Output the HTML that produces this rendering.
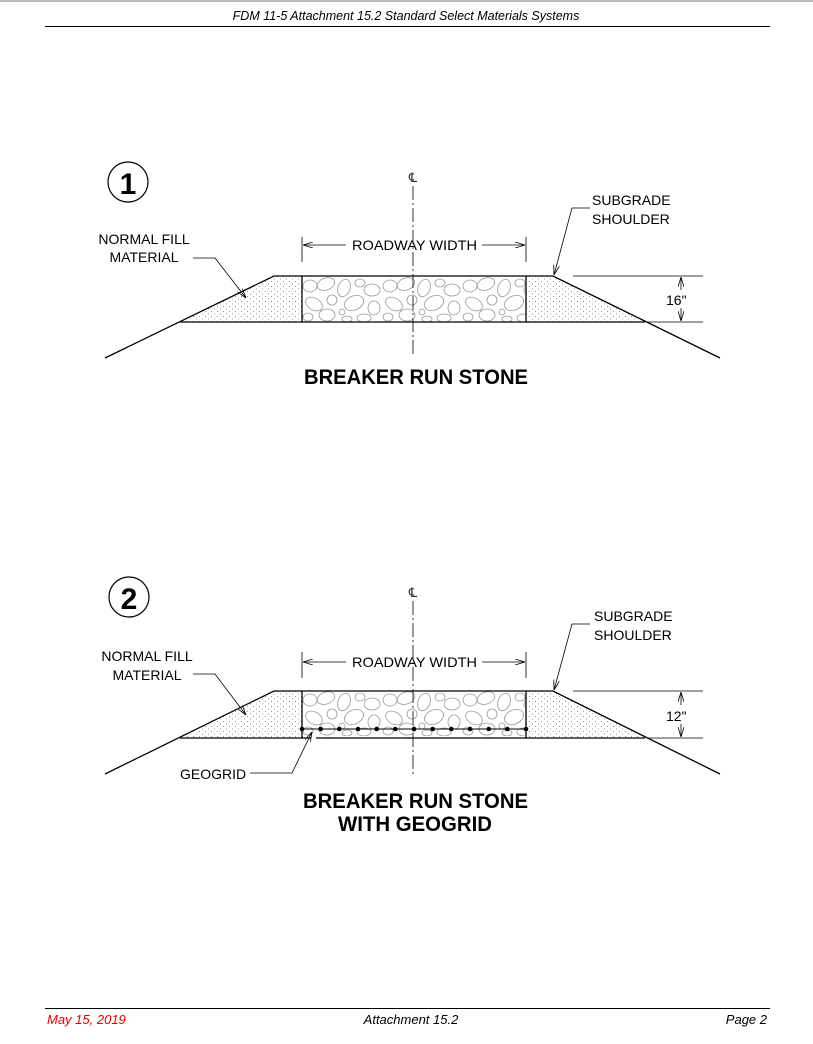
<!DOCTYPE html>
<html><head><meta charset="utf-8"><style>
html,body{margin:0;padding:0;background:#fff}
svg{display:block}
text{font-family:"Liberation Sans",Arial,sans-serif}
</style></head><body>
<svg width="813" height="1044" viewBox="0 0 813 1044" xmlns="http://www.w3.org/2000/svg">
<defs>
<pattern id="dots" width="6" height="5" patternUnits="userSpaceOnUse">
<rect x="1" y="1" width="0.9" height="0.9" fill="#777"/><rect x="4" y="3.5" width="0.9" height="0.9" fill="#888"/>
</pattern>
<pattern id="stones" width="80" height="46" patternUnits="userSpaceOnUse" x="302" y="276">
<g fill="none" stroke="#999" stroke-width="0.8">
<ellipse cx="8" cy="10" rx="7" ry="6"/><ellipse cx="24" cy="8" rx="9" ry="6" transform="rotate(-20 24 8)"/>
<ellipse cx="42" cy="12" rx="6" ry="9" transform="rotate(20 42 12)"/><ellipse cx="58" cy="7" rx="5" ry="4"/>
<ellipse cx="70" cy="14" rx="8" ry="6"/><ellipse cx="12" cy="28" rx="9" ry="6" transform="rotate(30 12 28)"/>
<ellipse cx="30" cy="24" rx="5" ry="5"/><ellipse cx="52" cy="27" rx="10" ry="7" transform="rotate(-25 52 27)"/>
<ellipse cx="72" cy="32" rx="6" ry="7"/><ellipse cx="6" cy="41" rx="5" ry="4"/>
<ellipse cx="25" cy="39" rx="8" ry="6"/><ellipse cx="40" cy="36" rx="3" ry="3"/>
<ellipse cx="45" cy="43" rx="5" ry="3"/><ellipse cx="62" cy="42" rx="7" ry="4"/>
</g>
</pattern>
<marker id="ar" markerWidth="10" markerHeight="6" refX="10" refY="3" orient="auto" markerUnits="userSpaceOnUse">
<path d="M0,0 L10,3 L0,6" fill="none" stroke="#000" stroke-width="0.8"/>
</marker>
</defs>
<rect x="0" y="0" width="813" height="2" fill="#bbb"/>
<text x="406" y="20" font-size="12.5" font-style="italic" text-anchor="middle">FDM 11-5 Attachment 15.2 Standard Select Materials Systems</text>
<line x1="45" y1="26.5" x2="770" y2="26.5" stroke="#000" stroke-width="1"/>

<g id="d1">
<circle cx="128" cy="182" r="20" fill="none" stroke="#000" stroke-width="1.2"/>
<text x="128" y="194" font-size="30" font-weight="bold" text-anchor="middle">1</text>
<polygon points="274,276 302,276 302,322 180,322" fill="url(#dots)"/>
<polygon points="526,276 553,276 645,322 526,322" fill="url(#dots)"/>
<rect x="302" y="276" width="224" height="46" fill="url(#stones)"/>
<g stroke="#000" stroke-width="1.3" fill="none">
<polyline points="105,358 274,276 553,276 720,358"/>
<line x1="180" y1="322" x2="645" y2="322"/>
<line x1="302" y1="276" x2="302" y2="322"/><line x1="526" y1="276" x2="526" y2="322"/>
</g>
<g stroke="#000" stroke-width="0.8" fill="none">
<line x1="413" y1="186" x2="413" y2="356" stroke-dasharray="14,3,2,3"/>
<line x1="302" y1="237" x2="302" y2="262"/><line x1="526" y1="237" x2="526" y2="262"/>
<line x1="346" y1="245" x2="303" y2="245" marker-end="url(#ar)"/>
<line x1="482" y1="245" x2="525" y2="245" marker-end="url(#ar)"/>
<line x1="573" y1="276" x2="703" y2="276"/><line x1="647" y1="322" x2="703" y2="322"/>
<line x1="681" y1="290" x2="681" y2="277" marker-end="url(#ar)"/>
<line x1="681" y1="308" x2="681" y2="321" marker-end="url(#ar)"/>
<polyline points="193,258 215,258 246,298" marker-end="url(#ar)"/>
<polyline points="590,208 572,208 554,275" marker-end="url(#ar)"/>
</g>
<text x="413" y="182" font-size="13" text-anchor="middle" fill="#333">℄</text>
<text x="352" y="250" font-size="14" textLength="125" lengthAdjust="spacingAndGlyphs">ROADWAY WIDTH</text>
<text x="144" y="244" font-size="14" text-anchor="middle">NORMAL FILL</text>
<text x="144" y="262" font-size="14" text-anchor="middle">MATERIAL</text>
<text x="592" y="205" font-size="14">SUBGRADE</text>
<text x="592" y="224" font-size="14">SHOULDER</text>
<text x="666" y="305" font-size="14">16"</text>
<text x="304" y="384" font-size="21" font-weight="bold" textLength="224" lengthAdjust="spacingAndGlyphs">BREAKER RUN STONE</text>
</g>

<g id="d2">
<circle cx="129" cy="597" r="20" fill="none" stroke="#000" stroke-width="1.2"/>
<text x="129" y="609" font-size="30" font-weight="bold" text-anchor="middle">2</text>
<polygon points="274,691 302,691 302,738 180,738" fill="url(#dots)"/>
<polygon points="526,691 553,691 645,738 526,738" fill="url(#dots)"/>
<rect x="302" y="691" width="224" height="47" fill="url(#stones)"/>
<g stroke="#000" stroke-width="1.3" fill="none">
<polyline points="105,774 274,691 553,691 720,774"/>
<line x1="180" y1="738" x2="311" y2="738"/><line x1="316" y1="738" x2="645" y2="738"/>
<line x1="302" y1="691" x2="302" y2="738"/><line x1="526" y1="691" x2="526" y2="738"/>
<line x1="302" y1="729" x2="526" y2="729" stroke-width="1"/>
</g>
<g fill="#000">
<circle cx="302" cy="729" r="2.3"/><circle cx="320.7" cy="729" r="2.3"/><circle cx="339.3" cy="729" r="2.3"/><circle cx="358" cy="729" r="2.3"/><circle cx="376.7" cy="729" r="2.3"/><circle cx="395.3" cy="729" r="2.3"/><circle cx="414" cy="729" r="2.3"/><circle cx="432.7" cy="729" r="2.3"/><circle cx="451.3" cy="729" r="2.3"/><circle cx="470" cy="729" r="2.3"/><circle cx="488.7" cy="729" r="2.3"/><circle cx="507.3" cy="729" r="2.3"/><circle cx="526" cy="729" r="2.3"/>
</g>
<g stroke="#000" stroke-width="0.8" fill="none">
<line x1="413" y1="601" x2="413" y2="775" stroke-dasharray="14,3,2,3"/>
<line x1="302" y1="652" x2="302" y2="678"/><line x1="526" y1="652" x2="526" y2="678"/>
<line x1="346" y1="662" x2="303" y2="662" marker-end="url(#ar)"/>
<line x1="482" y1="662" x2="525" y2="662" marker-end="url(#ar)"/>
<line x1="573" y1="691" x2="703" y2="691"/><line x1="647" y1="738" x2="703" y2="738"/>
<line x1="681" y1="705" x2="681" y2="692" marker-end="url(#ar)"/>
<line x1="681" y1="724" x2="681" y2="737" marker-end="url(#ar)"/>
<polyline points="193,674 215,674 246,715" marker-end="url(#ar)"/>
<polyline points="590,624 572,624 554,690" marker-end="url(#ar)"/>
<polyline points="250,773 292,773 312,732" marker-end="url(#ar)"/>
</g>
<text x="413" y="597" font-size="13" text-anchor="middle" fill="#333">℄</text>
<text x="352" y="667" font-size="14" textLength="125" lengthAdjust="spacingAndGlyphs">ROADWAY WIDTH</text>
<text x="147" y="661" font-size="14" text-anchor="middle">NORMAL FILL</text>
<text x="147" y="680" font-size="14" text-anchor="middle">MATERIAL</text>
<text x="594" y="621" font-size="14">SUBGRADE</text>
<text x="594" y="640" font-size="14">SHOULDER</text>
<text x="666" y="721" font-size="14">12"</text>
<text x="180" y="779" font-size="14">GEOGRID</text>
<text x="303" y="808" font-size="21" font-weight="bold" textLength="225" lengthAdjust="spacingAndGlyphs">BREAKER RUN STONE</text>
<text x="338" y="831" font-size="21" font-weight="bold" textLength="154" lengthAdjust="spacingAndGlyphs">WITH GEOGRID</text>
</g>

<line x1="45" y1="1008.5" x2="770" y2="1008.5" stroke="#000" stroke-width="1"/>
<text x="47" y="1024" font-size="13" font-style="italic" fill="#e00000">May 15, 2019</text>
<text x="411" y="1024" font-size="13" font-style="italic" text-anchor="middle">Attachment 15.2</text>
<text x="767" y="1024" font-size="13" font-style="italic" text-anchor="end">Page 2</text>
</svg>
</body></html>
